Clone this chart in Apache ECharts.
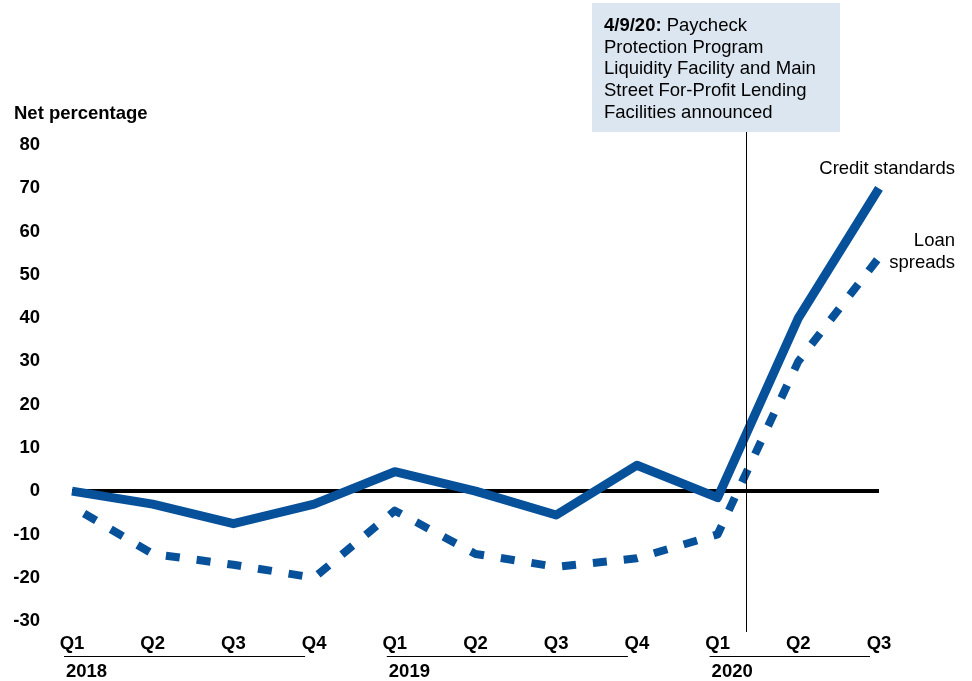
<!DOCTYPE html>
<html><head><meta charset="utf-8">
<script src="https://cdn.jsdelivr.net/npm/echarts@6/dist/echarts.min.js"></script>
<style>html,body{margin:0;padding:0;background:#fff}#c{width:972px;height:681px}</style>
</head><body><div id="c"></div>
<script>
const quarters = ['Q1','Q2','Q3','Q4','Q1','Q2','Q3','Q4','Q1','Q2','Q3'];
const years = [{label:'2018', from:0, to:3}, {label:'2019', from:4, to:7}, {label:'2020', from:8, to:10}];
const creditStandards = [0, -3, -7.5, -3, 4.5, 0, -5.5, 6, -1.5, 40, 70];
const loanSpreads = [-3.5, -14.5, -17, -20, -4.5, -14.5, -17.5, -15.5, -10, 30, 54];
const yTicks = {min: -30, max: 80, interval: 10};
const eventX = 8.35;

(function(){
const FONT = '"Liberation Sans", Arial, sans-serif';
const FS = 18.5;
const BLUE = '#07519a';
const chart = echarts.init(document.getElementById('c'), null, {renderer:'canvas'});
const idx = quarters.map((q,i)=>i);
const option = {
  animation:false,
  grid:{left:72, right:93, top:145, bottom:60, containLabel:false},
  xAxis:{type:'value', min:0, max:quarters.length-1, interval:1,
    axisLine:{show:false}, axisTick:{show:false}, splitLine:{show:false},
    axisLabel:{formatter:v=>quarters[v]||'', fontFamily:FONT, fontSize:FS, fontWeight:'bold', color:'#000', margin:13}},
  yAxis:{type:'value', min:yTicks.min, max:yTicks.max, interval:yTicks.interval,
    axisLine:{show:false}, axisTick:{show:false}, splitLine:{show:false},
    axisLabel:{fontFamily:FONT, fontSize:FS, fontWeight:'bold', color:'#000', margin:32, padding:[3,0,0,0]}},
  series:[
    {type:'line', name:'Loan spreads', data:idx.map(i=>[i, loanSpreads[i]]), showSymbol:false, z:3,
      lineStyle:{color:BLUE, width:8, type:[14,17], dashOffset:17, join:'round'}},
    {type:'line', name:'Credit standards', data:idx.map(i=>[i, creditStandards[i]]), showSymbol:false, z:4,
      lineStyle:{color:BLUE, width:9, join:'round'},
      markLine:{silent:true, symbol:'none', label:{show:false}, z:2,
        lineStyle:{color:'#000', width:4, type:'solid'}, data:[{yAxis:0}]}}
  ]
};
chart.setOption(option);

const g = [];
const pTop = chart.convertToPixel({xAxisIndex:0, yAxisIndex:0}, [eventX, yTicks.max]);
const pBot = chart.convertToPixel({xAxisIndex:0, yAxisIndex:0}, [eventX, yTicks.min]);
g.push({type:'line', shape:{x1:Math.round(pTop[0])+0.5, y1:132, x2:Math.round(pTop[0])+0.5, y2:pBot[1]+11}, style:{stroke:'#000', lineWidth:1}, z:10});
g.push({type:'rect', shape:{x:592, y:3, width:248, height:129}, style:{fill:'#dce6f1'}, z:10});
g.push({type:'text', x:604, y:15, z:11, style:{
  text:'{b|4/9/20:} Paycheck\nProtection Program\nLiquidity Facility and Main\nStreet For-Profit Lending\nFacilities announced',
  font:FS+'px '+FONT, fill:'#000', lineHeight:21.7,
  rich:{b:{fontWeight:'bold', fontFamily:FONT, fontSize:FS, lineHeight:21.7}}}});
g.push({type:'text', x:14, y:104, style:{text:'Net percentage', font:'bold '+FS+'px '+FONT, fill:'#000'}});
g.push({type:'text', x:955, y:159, style:{text:'Credit standards', font:FS+'px '+FONT, fill:'#000', align:'right'}});
g.push({type:'text', x:955, y:230, style:{text:'Loan\nspreads', font:FS+'px '+FONT, fill:'#000', align:'right', lineHeight:22}});
years.forEach(y=>{
  const a = chart.convertToPixel({xAxisIndex:0, yAxisIndex:0}, [y.from, yTicks.min]);
  const b = chart.convertToPixel({xAxisIndex:0, yAxisIndex:0}, [y.to, yTicks.min]);
  g.push({type:'line', shape:{x1:a[0]-8, y1:656.5, x2:b[0]-9, y2:656.5}, style:{stroke:'#000', lineWidth:1}});
  g.push({type:'text', x:a[0]-6, y:662, style:{text:y.label, font:'bold '+FS+'px '+FONT, fill:'#000'}});
});
chart.setOption({graphic:g});
})();
</script></body></html>
